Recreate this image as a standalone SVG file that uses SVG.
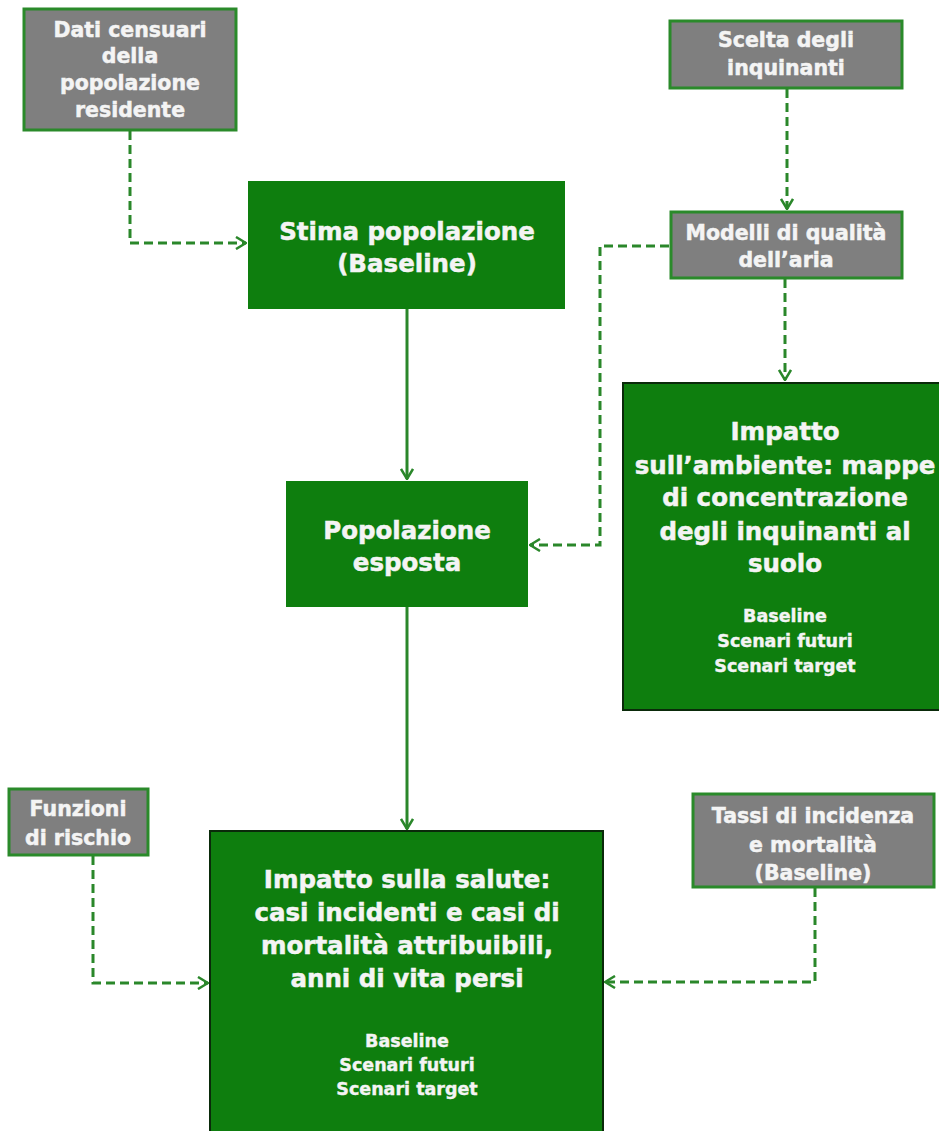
<svg xmlns="http://www.w3.org/2000/svg" width="939" height="1131" viewBox="0 0 939 1131">
<defs>
<marker id="arr" viewBox="0 0 12 14" refX="11" refY="7" markerWidth="12" markerHeight="14" markerUnits="userSpaceOnUse" orient="auto">
<path d="M1,1 L11,7 L1,13" fill="none" stroke="#2a872a" stroke-width="2.5"/>
</marker>
<style>
.gray{fill:#7f7f7f;stroke:#2a8a2a;stroke-width:3}
.green{fill:#0e7e0e}
.dark{fill:#0e7e0e;stroke:#0a2a0a;stroke-width:2}
text{font-family:"DejaVu Sans",Verdana,sans-serif;font-weight:bold;fill:#f4f4f4;stroke:#f4f4f4;stroke-width:0.5;text-anchor:middle}
.s{font-size:20.5px}
.m{font-size:24.5px}
.sm{font-size:17.5px;stroke-width:0.4}
.c{fill:none;stroke:#2a872a;stroke-width:3}
.d{stroke-dasharray:9,5}
</style>
</defs>
<g id="connectors">
<path class="c d" d="M130,131 V243 H246" marker-end="url(#arr)"/>
<path class="c d" d="M787,89 V209" marker-end="url(#arr)"/>
<path class="c d" d="M785,279 V380" marker-end="url(#arr)"/>
<path class="c d" d="M669,246 H600 V545 H530" marker-end="url(#arr)"/>
<path class="c" d="M407,309 V479" marker-end="url(#arr)"/>
<path class="c" d="M407,607 V829" marker-end="url(#arr)"/>
<path class="c d" d="M93,856 V983 H208" marker-end="url(#arr)"/>
<path class="c d" d="M815,888 V982 H605" marker-end="url(#arr)"/>
</g>
<g id="dati">
<rect class="gray" x="24" y="9" width="212" height="121"/>
<text class="s" x="130" y="37">Dati censuari</text>
<text class="s" x="130" y="63">della</text>
<text class="s" x="130" y="90">popolazione</text>
<text class="s" x="130" y="117">residente</text>
</g>
<g id="scelta">
<rect class="gray" x="670" y="21" width="232" height="67"/>
<text class="s" x="786" y="47">Scelta degli</text>
<text class="s" x="786" y="75">inquinanti</text>
</g>
<g id="modelli">
<rect class="gray" x="671" y="212" width="231" height="66"/>
<text class="s" x="786" y="240">Modelli di qualità</text>
<text class="s" x="786" y="267">dell’aria</text>
</g>
<g id="stima">
<rect class="green" x="248" y="181" width="317" height="128"/>
<text class="m" x="407" y="240">Stima popolazione</text>
<text class="m" x="407" y="272">(Baseline)</text>
</g>
<g id="esposta">
<rect class="green" x="286" y="481" width="242" height="126"/>
<text class="m" x="407" y="539">Popolazione</text>
<text class="m" x="407" y="571">esposta</text>
</g>
<g id="ambiente">
<rect class="dark" x="623" y="383" width="320" height="327"/>
<text class="m" x="785" y="440">Impatto</text>
<text class="m" x="785" y="474">sull’ambiente: mappe</text>
<text class="m" x="785" y="506">di concentrazione</text>
<text class="m" x="785" y="540">degli inquinanti al</text>
<text class="m" x="785" y="572">suolo</text>
<text class="sm" x="785" y="622">Baseline</text>
<text class="sm" x="785" y="647">Scenari futuri</text>
<text class="sm" x="785" y="672">Scenari target</text>
</g>
<g id="funzioni">
<rect class="gray" x="9" y="789" width="139" height="66"/>
<text class="s" x="78" y="816">Funzioni</text>
<text class="s" x="78" y="845">di rischio</text>
</g>
<g id="tassi">
<rect class="gray" x="693" y="794" width="241" height="93"/>
<text class="s" x="813" y="823">Tassi di incidenza</text>
<text class="s" x="813" y="852">e mortalità</text>
<text class="s" x="813" y="880">(Baseline)</text>
</g>
<g id="salute">
<rect class="dark" x="210" y="831" width="393" height="310"/>
<text class="m" x="407" y="888">Impatto sulla salute:</text>
<text class="m" x="407" y="921">casi incidenti e casi di</text>
<text class="m" x="407" y="954">mortalità attribuibili,</text>
<text class="m" x="407" y="987">anni di vita persi</text>
<text class="sm" x="407" y="1047">Baseline</text>
<text class="sm" x="407" y="1071">Scenari futuri</text>
<text class="sm" x="407" y="1095">Scenari target</text>
</g>
</svg>
